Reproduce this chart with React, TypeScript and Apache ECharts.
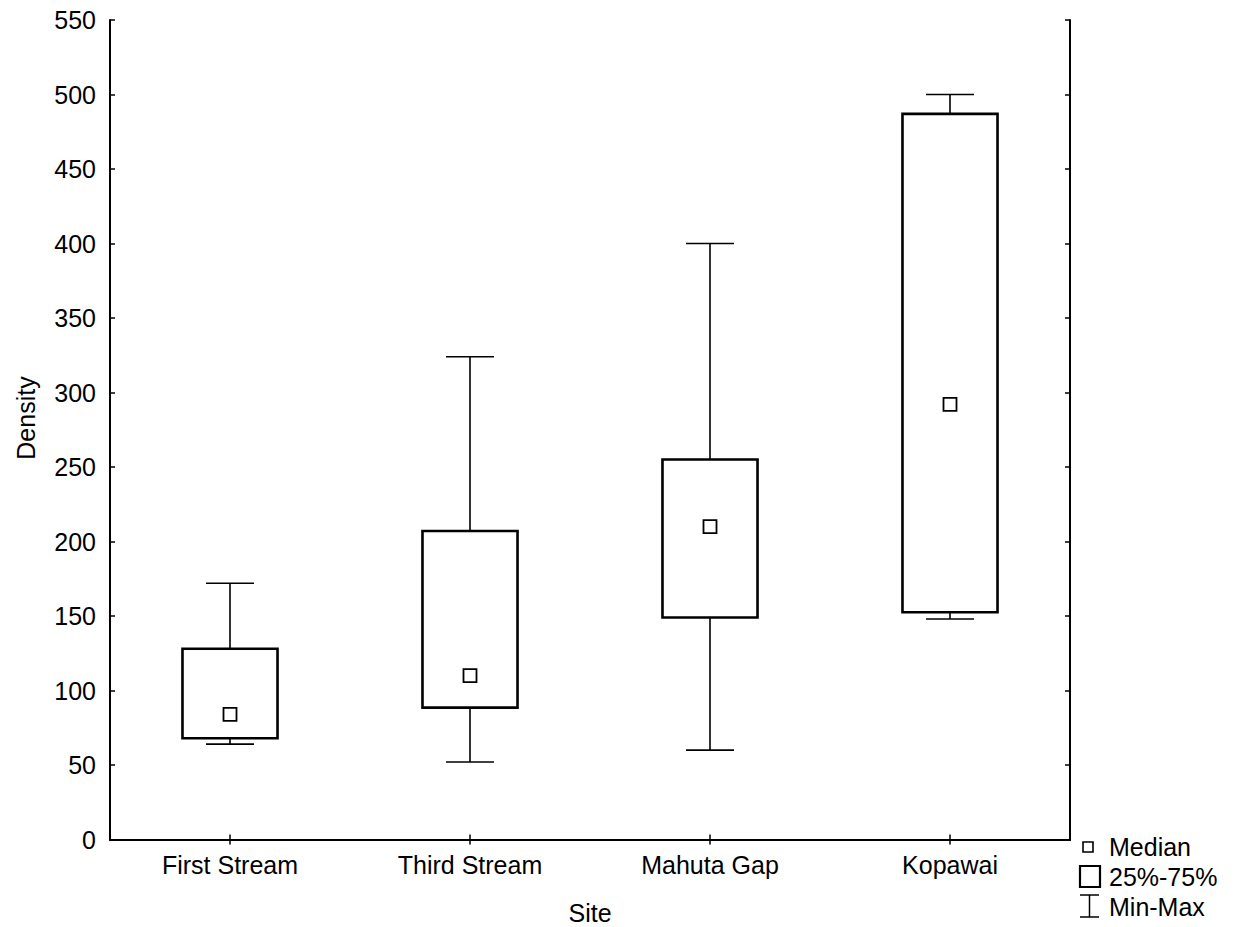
import React, { useEffect, useRef } from "react";
import * as echarts from "echarts";

// Density per site: min, 25%, median, 75%, max
const sites = ["First Stream", "Third Stream", "Mahuta Gap", "Kopawai"];
const minValues = [64, 52, 60, 148];
const q1Values = [68, 88.5, 149, 152.5];
const medianValues = [84, 110, 210, 292];
const q3Values = [128, 207, 255, 487];
const maxValues = [172, 324, 400, 500];

const yMin = 0;
const yMax = 550;
const yStep = 50;

const FONT = "'Liberation Sans', Arial, Helvetica, sans-serif";
const FS = 25;

export default function App() {
  const ref = useRef<HTMLDivElement>(null);

  useEffect(() => {
    if (!ref.current) return;
    const chart = echarts.init(ref.current, undefined, { renderer: "svg" });

    const data = sites.map((_, i) => [
      i,
      minValues[i],
      q1Values[i],
      medianValues[i],
      q3Values[i],
      maxValues[i],
    ]);

    const black = "#000";

    const renderItem = (params: any, api: any) => {
      const x = api.value(0);
      const pMin = api.coord([x, api.value(1)]);
      const pQ1 = api.coord([x, api.value(2)]);
      const pMed = api.coord([x, api.value(3)]);
      const pQ3 = api.coord([x, api.value(4)]);
      const pMax = api.coord([x, api.value(5)]);
      const band = api.size([1, 0])[0];
      const boxW = band * 0.396;
      const capW = band * 0.2;
      const cx = pMin[0];
      const whisker = { stroke: black, lineWidth: 1.6, fill: null };
      return {
        type: "group",
        children: [
          { type: "line", shape: { x1: cx, y1: pQ3[1], x2: cx, y2: pMax[1] }, style: whisker },
          { type: "line", shape: { x1: cx - capW / 2, y1: pMax[1], x2: cx + capW / 2, y2: pMax[1] }, style: whisker },
          { type: "line", shape: { x1: cx, y1: pQ1[1], x2: cx, y2: pMin[1] }, style: whisker },
          { type: "line", shape: { x1: cx - capW / 2, y1: pMin[1], x2: cx + capW / 2, y2: pMin[1] }, style: whisker },
          {
            type: "rect",
            shape: { x: cx - boxW / 2, y: pQ3[1], width: boxW, height: pQ1[1] - pQ3[1] },
            style: { fill: "#fff", stroke: black, lineWidth: 2.6 },
          },
          {
            type: "rect",
            shape: { x: cx - 6.5, y: pMed[1] - 6.5, width: 13, height: 13 },
            style: { fill: "#fff", stroke: black, lineWidth: 1.8 },
          },
        ],
      };
    };

    const axisLine = { show: true, lineStyle: { color: black, width: 2 } };
    const tick = { show: true, inside: true, length: 5, lineStyle: { color: black, width: 1.5 } };
    const label = { color: black, fontSize: FS, fontFamily: FONT };

    chart.setOption({
      animation: false,
      backgroundColor: "#fff",
      grid: { left: 110, right: 170, top: 20, bottom: 87.5 },
      xAxis: [
        {
          type: "category",
          data: sites,
          position: "bottom",
          boundaryGap: true,
          axisLine,
          axisTick: { ...tick, alignWithLabel: true },
          axisLabel: { ...label, margin: 13 },
          splitLine: { show: false },
        },
        {
          type: "category",
          data: sites,
          position: "top",
          boundaryGap: true,
          axisLine,
          axisTick: { ...tick, alignWithLabel: true },
          axisLabel: { show: false },
          splitLine: { show: false },
        },
      ],
      yAxis: [
        {
          type: "value",
          min: yMin,
          max: yMax,
          interval: yStep,
          position: "left",
          axisLine,
          axisTick: tick,
          axisLabel: { ...label, margin: 14 },
          splitLine: { show: false },
        },
        {
          type: "value",
          min: yMin,
          max: yMax,
          interval: yStep,
          position: "right",
          axisLine,
          axisTick: tick,
          axisLabel: { show: false },
          splitLine: { show: false },
        },
      ],
      series: [
        {
          type: "custom",
          xAxisIndex: 0,
          yAxisIndex: 0,
          data,
          encode: { x: 0, y: [1, 2, 3, 4, 5] },
          renderItem,
          clip: false,
        },
      ],
      graphic: [
        {
          type: "text",
          x: 26,
          y: 418,
          rotation: Math.PI / 2,
          style: { text: "Density", font: `${FS}px ${FONT}`, fill: black, align: "center", verticalAlign: "middle" },
        },
        {
          type: "text",
          x: 590,
          y: 913,
          style: { text: "Site", font: `${FS}px ${FONT}`, fill: black, align: "center", verticalAlign: "middle" },
        },
        // legend
        { type: "rect", shape: { x: 1083, y: 842, width: 10, height: 10 }, style: { fill: "#fff", stroke: black, lineWidth: 1.6 } },
        { type: "text", x: 1109, y: 847, style: { text: "Median", font: `${FS}px ${FONT}`, fill: black, verticalAlign: "middle" } },
        { type: "rect", shape: { x: 1080, y: 866, width: 20, height: 21 }, style: { fill: "#fff", stroke: black, lineWidth: 2.2 } },
        { type: "text", x: 1109, y: 877, style: { text: "25%-75%", font: `${FS}px ${FONT}`, fill: black, verticalAlign: "middle" } },
        { type: "line", shape: { x1: 1080, y1: 895, x2: 1099, y2: 895 }, style: { stroke: black, lineWidth: 1.5 } },
        { type: "line", shape: { x1: 1089.5, y1: 895, x2: 1089.5, y2: 917 }, style: { stroke: black, lineWidth: 1.5 } },
        { type: "line", shape: { x1: 1080, y1: 917, x2: 1099, y2: 917 }, style: { stroke: black, lineWidth: 1.5 } },
        { type: "text", x: 1109, y: 907, style: { text: "Min-Max", font: `${FS}px ${FONT}`, fill: black, verticalAlign: "middle" } },
      ],
    });

    return () => chart.dispose();
  }, []);

  return (
    <div
      ref={ref}
      style={{ position: "fixed", left: 0, top: 0, width: 1240, height: 927, background: "#fff" }}
    />
  );
}
